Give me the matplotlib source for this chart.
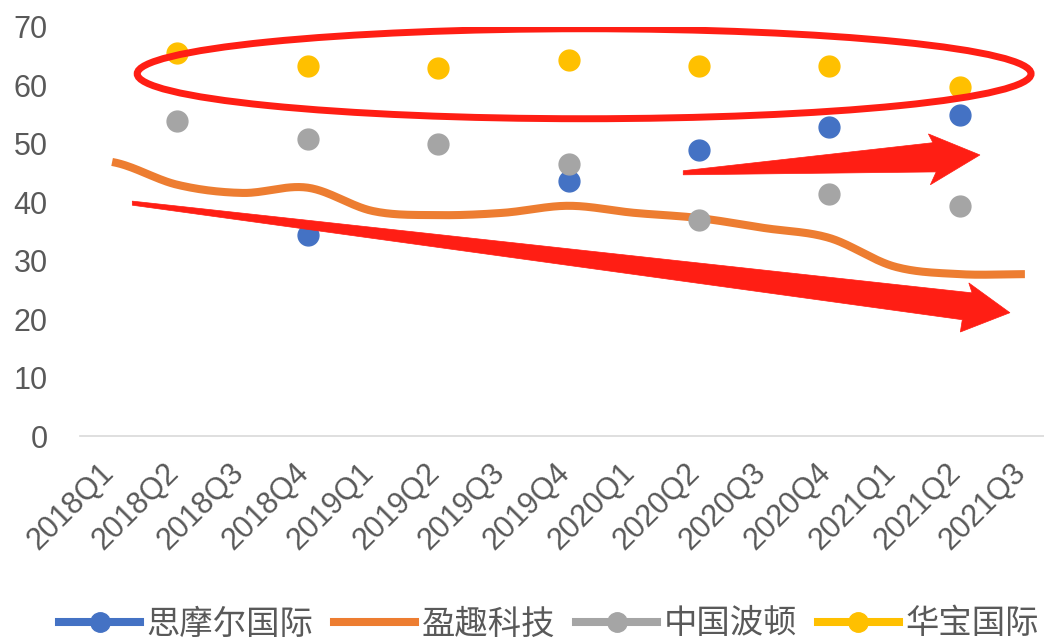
import numpy as np
import matplotlib.pyplot as plt
from matplotlib.patches import Ellipse, Polygon
from matplotlib.lines import Line2D
import matplotlib.transforms as mtransforms

plt.rcParams['font.family'] = ['Liberation Sans', 'DejaVu Sans']

quarters = ['2018Q1', '2018Q2', '2018Q3', '2018Q4', '2019Q1', '2019Q2', '2019Q3', '2019Q4',
            '2020Q1', '2020Q2', '2020Q3', '2020Q4', '2021Q1', '2021Q2', '2021Q3']
nan = np.nan
smoore = [nan, nan, nan, 34.4, nan, nan, nan, 43.7, nan, 49.0, nan, 52.9, nan, 55.0, nan]
intretech = [46.9, 43.0, 41.6, 42.5, 38.5, 37.8, 38.2, 39.4, 38.2, 37.3, 35.6, 33.9, 29.0, 27.7, 27.7]
boton = [nan, 53.9, nan, 50.9, nan, 49.9, nan, 46.6, nan, 37.0, nan, 41.4, nan, 39.4, nan]
huabao = [nan, 65.6, nan, 63.4, nan, 63.0, nan, 64.4, nan, 63.4, nan, 63.4, nan, 59.7, nan]
names = ['思摩尔国际', '盈趣科技', '中国波顿', '华宝国际']
colors = ['#4472C4', '#ED7D31', '#A5A5A5', '#FFC000']
red = '#FF1E14'
txt = '#595959'


def catmull_rom(y, n=30):
    # smooth line like excel's "smoothed line"
    p = np.array(y, dtype=float)
    xs, ys = [], []
    for i in range(len(p) - 1):
        p0 = p[i - 1] if i > 0 else p[i]
        p1, p2 = p[i], p[i + 1]
        p3 = p[i + 2] if i + 2 < len(p) else p[i + 1]
        t = np.linspace(0, 1, n, endpoint=False)
        yy = 0.5 * ((2 * p1) + (-p0 + p2) * t + (2 * p0 - 5 * p1 + 4 * p2 - p3) * t ** 2
                    + (-p0 + 3 * p1 - 3 * p2 + p3) * t ** 3)
        xs.append(i + t)
        ys.append(yy)
    xs.append([len(p) - 1])
    ys.append([p[-1]])
    return np.concatenate(xs), np.concatenate(ys)


fig = plt.figure(figsize=(10.44, 6.41), dpi=100)
ax = fig.add_axes([79.5 / 1044, (641 - 436) / 641, 978 / 1044, (436 - 27) / 641])
x = np.arange(len(quarters))

ax.plot(x, smoore, 'o', color=colors[0], markersize=15, zorder=3)
sx, sy = catmull_rom(intretech)
ax.plot(sx, sy, color=colors[1], lw=5.8, solid_capstyle='butt', zorder=3)
ax.plot(x, boton, 'o', color=colors[2], markersize=15, zorder=3)
ax.plot(x, huabao, 'o', color=colors[3], markersize=15, zorder=3)

ax.set_xlim(-0.5, len(quarters) - 0.5)
ax.set_ylim(0, 70)
ax.set_yticks(range(0, 71, 10))
ax.set_xticks(x)
ax.set_xticklabels(quarters)
for s in ['top', 'right', 'left']:
    ax.spines[s].set_visible(False)
ax.spines['bottom'].set_color('#D9D9D9')
ax.spines['bottom'].set_linewidth(1.2)
ax.tick_params(axis='both', length=0, labelsize=22, labelcolor=txt)
ax.tick_params(axis='y', pad=23)
ax.tick_params(axis='x', pad=23)
offset = mtransforms.ScaledTranslation(-0.03, 0, fig.dpi_scale_trans)
for lab in ax.get_xticklabels():
    lab.set_rotation(45)
    lab.set_ha('right')
    lab.set_va('center')
    lab.set_rotation_mode('anchor')
    lab.set_transform(lab.get_transform() + offset)

# hand-drawn red highlights
ax.add_patch(Ellipse((7.24, 62.0), 13.71, 15.4, fill=False, ec=red, lw=5, zorder=5))
up_arrow = [(8.76, 45.4), (12.59, 50.2), (12.52, 51.7), (13.31, 48.1),
            (12.55, 43.0), (12.64, 45.2), (8.76, 44.7)]
down_arrow = [(0.31, 40.2), (13.19, 24.5), (13.14, 26.2), (13.77, 21.1),
              (13.01, 17.8), (13.04, 19.9), (0.31, 39.5)]
for pts in (up_arrow, down_arrow):
    ax.add_patch(Polygon(pts, closed=True, fc=red, ec=red, lw=0.5, zorder=5))

handles = [
    Line2D([], [], color=colors[0], lw=5.8, marker='o', markersize=14),
    Line2D([], [], color=colors[1], lw=5.8),
    Line2D([], [], color=colors[2], lw=5.8, marker='o', markersize=14),
    Line2D([], [], color=colors[3], lw=5.8, marker='o', markersize=14),
]
leg = fig.legend(handles, names, loc='center left', bbox_to_anchor=(59 / 1044, (641 - 624) / 641),
                 ncol=4, frameon=False, borderpad=0, borderaxespad=0, handlelength=2.43,
                 handletextpad=0.2, columnspacing=0.62,
                 prop={'family': ['Noto Sans CJK SC', 'DejaVu Sans'], 'size': 24})
for t in leg.get_texts():
    t.set_color(txt)

fig.savefig('out.png', dpi=100)
plt.close()
